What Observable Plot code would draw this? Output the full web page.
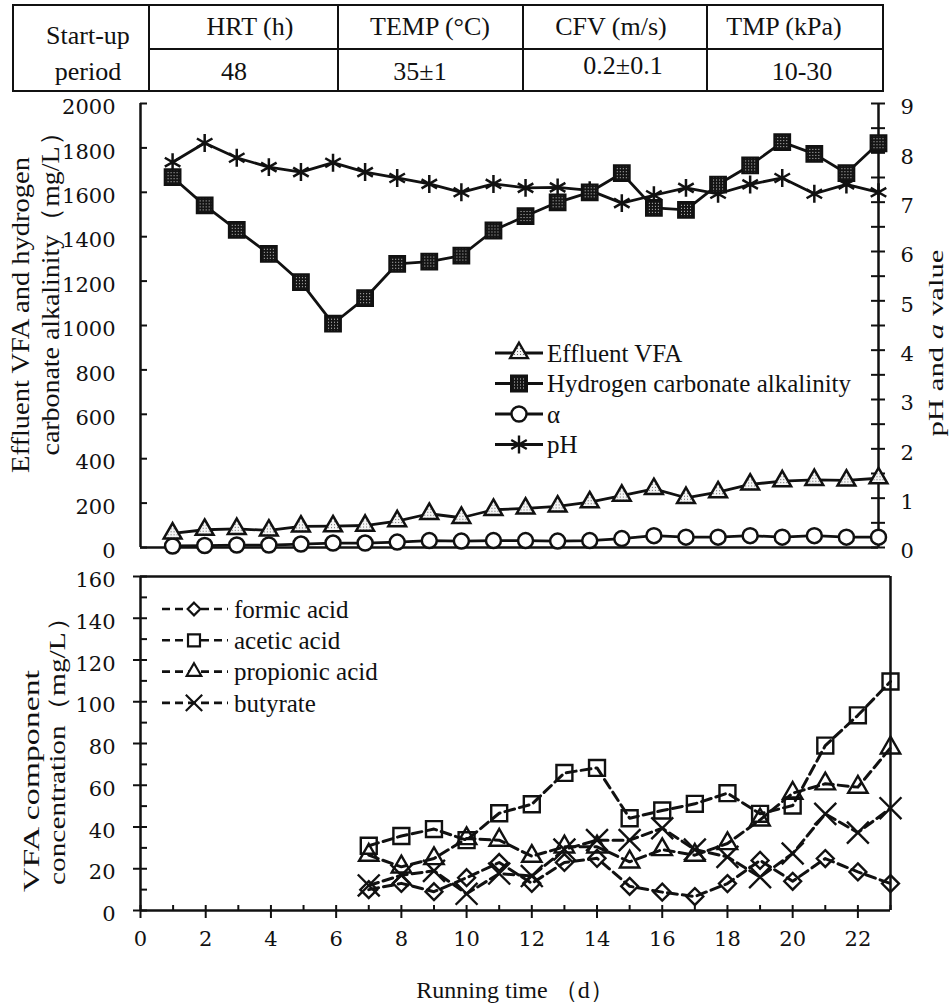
<!DOCTYPE html>
<html><head><meta charset="utf-8">
<script src="https://cdn.jsdelivr.net/npm/d3@7"></script>
<script src="https://cdn.jsdelivr.net/npm/@observablehq/plot@0.6"></script>
<style>
html,body{margin:0;padding:0;background:#fff;}
#page{position:relative;width:951px;height:1006px;overflow:hidden;background:#fff;}
#page > svg{position:absolute;left:0;}
</style></head><body><div id="page"></div>
<script>
// ---------- data ----------
const tableRowLabel = ["Start-up", "period"];
const tableHeaders = ["HRT (h)", "TEMP (°C)", "CFV (m/s)", "TMP (kPa)"];
const tableValues = ["48", "35±1", "0.2±0.1", "10-30"];

const days = [1,2,3,4,5,6,7,8,9,10,11,12,13,14,15,16,17,18,19,20,21,22,23];
const effluentVFA = [64,80,84,77,95,96,99,119,152,134,170,176,185,204,234,264,224,249,284,299,305,302,312];
const bicarbAlk = [1668,1541,1431,1323,1195,1008,1123,1278,1288,1315,1428,1493,1555,1600,1686,1530,1521,1635,1721,1826,1773,1686,1821];
const alphaVal = [0.03,0.04,0.05,0.05,0.07,0.09,0.09,0.11,0.14,0.13,0.14,0.14,0.13,0.14,0.18,0.24,0.21,0.21,0.24,0.21,0.24,0.21,0.21];
const pHVal = [7.81,8.20,7.90,7.71,7.61,7.80,7.61,7.49,7.37,7.20,7.37,7.29,7.30,7.24,6.98,7.14,7.29,7.17,7.36,7.49,7.17,7.36,7.20];

const vfaDays = [7,8,9,10,11,12,13,14,15,16,17,18,19,20,21,22,23];
const formic = [10,13,9,15.7,23,13,23,25,11.6,8.8,6.7,12.9,24,14,24.9,18.5,12.9];
const acetic = [31,35.7,39,33.7,46.6,50.9,65.9,68.3,44.2,47.9,51.1,56.2,46.3,50.3,79,93.5,109.7];
const propionic = [26.5,20.9,24.9,34.5,33.7,26,30.5,30.5,23.3,29.2,26.5,32.1,43.4,56.2,60.7,59.1,77.9];
const butyrate = [12,16.9,19,8,17.7,16.5,29.2,33.7,33.7,39.4,29.2,25.7,16,27.3,46.3,37.3,49];

const topLegend = ["Effluent VFA", "Hydrogen carbonate alkalinity", "α", "pH"];
const bottomLegend = ["formic acid", "acetic acid", "propionic acid", "butyrate"];
const leftTicksTop = [0,200,400,600,800,1000,1200,1400,1600,1800,2000];
const rightTicksTop = [0,1,2,3,4,5,6,7,8,9];
const leftTicksBottom = [0,20,40,60,80,100,120,140,160];
const xTicksBottom = [0,2,4,6,8,10,12,14,16,18,20,22];

// ---------- helpers ----------
const INK = "#111";
const SERIF = "'Liberation Serif','Times New Roman',serif";
const NUMF = "'DejaVu Serif',serif";
const page = d3.select("#page");

function addPatterns(svg) {
  const defs = d3.select(svg).insert("defs", ":first-child");
  const p1 = defs.append("pattern").attr("id", "sqDots").attr("patternUnits", "userSpaceOnUse").attr("width", 3).attr("height", 3);
  p1.append("rect").attr("width", 3).attr("height", 3).attr("fill", "#141414");
  p1.append("rect").attr("x", 1).attr("y", 1).attr("width", 1).attr("height", 1).attr("fill", "#c8c8c8");
  const p2 = defs.append("pattern").attr("id", "triDots").attr("patternUnits", "userSpaceOnUse").attr("width", 3).attr("height", 3);
  p2.append("rect").attr("width", 3).attr("height", 3).attr("fill", "#f4f4f4");
  p2.append("rect").attr("x", 1).attr("y", 1).attr("width", 1).attr("height", 1).attr("fill", "#666");
}
function rotLabel(g, cx, cy, size, len, family) {
  return g.append("text").attr("transform", `translate(${cx},${cy}) rotate(-90)`)
    .attr("text-anchor", "middle").attr("dy", "0.35em")
    .attr("font-family", family || SERIF).attr("font-size", size).attr("fill", INK)
    .attr("textLength", len).attr("lengthAdjust", "spacingAndGlyphs");
}
const sym = {triangle: d3.symbolTriangle, square: d3.symbolSquare, circle: d3.symbolCircle,
  asterisk: d3.symbolAsterisk, diamond2: d3.symbolDiamond2, times: d3.symbolTimes};
const fmt = d => String(d);

// ---------- table ----------
const tbl = page.append("svg").attr("width", 951).attr("height", 95).style("top", "0px");
const tl = tbl.append("g").attr("stroke", INK).attr("stroke-width", 2);
[[13,5,883,5],[149,49,883,49],[13,91,883,91]].forEach(([a,b,c,d]) => tl.append("line").attr("x1",a).attr("y1",b).attr("x2",c).attr("y2",d));
[13,149,338,523,707,883].forEach(x => tl.append("line").attr("x1",x).attr("y1",4).attr("x2",x).attr("y2",92));
const tt = tbl.append("g").attr("font-family", SERIF).attr("font-size", 26).attr("fill", INK).attr("text-anchor", "middle");
tt.append("text").attr("x", 88).attr("y", 44).text(tableRowLabel[0]);
tt.append("text").attr("x", 88).attr("y", 80).text(tableRowLabel[1]);
const hx = [250, 430, 611, 784], vx = [234, 420, 623, 802], vy = [80, 80, 74, 80];
tableHeaders.forEach((h, i) => tt.append("text").attr("x", hx[i]).attr("y", 35).text(h));
tableValues.forEach((v, i) => tt.append("text").attr("x", vx[i]).attr("y", vy[i]).text(v));

// ---------- top chart ----------
const K = 2000 / 9;
const topRows = days.map((d, i) => ({day: d, vfa: effluentVFA[i], alk: bicarbAlk[i], alpha: alphaVal[i] * K, ph: pHVal[i] * K}));
const tickLenTop = 7 / 32.1;

const topSvg = Plot.plot({
  width: 951, height: 474, marginLeft: 140, marginRight: 73, marginTop: 11, marginBottom: 19,
  x: {domain: [0, 23], axis: null},
  y: {domain: [0, 2000], axis: null},
  style: {overflow: "visible", background: "transparent", fontFamily: NUMF, fontSize: "21px", color: INK},
  marks: [
    Plot.axisY(leftTicksTop, {anchor: "left", tickSize: 0, tickPadding: 25, dy: 4, label: null, fontSize: 21, tickFormat: fmt}),
    Plot.axisY(rightTicksTop.map(v => v * K), {anchor: "right", tickSize: 0, tickPadding: 22, dy: 4, label: null, fontSize: 21, tickFormat: d => String(Math.round(d / K))}),
    Plot.ruleY(leftTicksTop, {x1: 0, x2: tickLenTop, stroke: INK, strokeWidth: 2}),
    Plot.ruleY(d3.range(0, 18.5).map(h => h * 0.5 * K), {x1: 23 - tickLenTop, x2: 23 + tickLenTop, stroke: INK, strokeWidth: 2}),
    Plot.ruleX([0], {y1: 0, y2: 2000, stroke: INK, strokeWidth: 2.5}),
    Plot.ruleX([23], {y1: 0, y2: 2000, stroke: INK, strokeWidth: 2.5}),
    Plot.ruleY([0], {x1: 0, x2: 23, stroke: INK, strokeWidth: 2.5}),
    Plot.line(topRows, {x: "day", y: "alpha", stroke: INK, strokeWidth: 2.8}),
    Plot.line(topRows, {x: "day", y: "vfa", stroke: INK, strokeWidth: 2.8}),
    Plot.line(topRows, {x: "day", y: "ph", stroke: INK, strokeWidth: 2.8}),
    Plot.line(topRows, {x: "day", y: "alk", stroke: INK, strokeWidth: 2.8}),
    Plot.dot(topRows, {x: "day", y: "alpha", symbol: "circle", r: 7.5, fill: "white", stroke: INK, strokeWidth: 2.5}),
    Plot.dot(topRows, {x: "day", y: "vfa", symbol: "triangle", r: 6.6, fill: "url(#triDots)", stroke: INK, strokeWidth: 2.5}),
    Plot.dot(topRows, {x: "day", y: "ph", symbol: "asterisk", r: 8.5, fill: "none", stroke: INK, strokeWidth: 2.5}),
    Plot.dot(topRows, {x: "day", y: "alk", symbol: "square", r: 8.8, fill: "url(#sqDots)", stroke: INK, strokeWidth: 2.2})
  ]
});
addPatterns(topSvg);
d3.select(topSvg).style("position", "absolute").style("top", "92px").style("left", "0px");
page.node().appendChild(topSvg);
{
  const g = d3.select(topSvg).append("g");
  rotLabel(g, 20, 315 - 92, 26, 316).text("Effluent VFA and hydrogen");
  rotLabel(g, 50, 287 - 92, 26, 337).text("carbonate alkalinity（mg/L）");
  const r = rotLabel(g, 936, 343 - 92, 21, 187, SERIF);
  r.append("tspan").text("pH and ");
  r.append("tspan").attr("font-style", "italic").text("a");
  r.append("tspan").text(" value");
  const lg = g.append("g").attr("text-anchor", "start");
  const styles = [
    {s: "triangle", r: 6.6, fill: "url(#triDots)"},
    {s: "square", r: 8.8, fill: "url(#sqDots)"},
    {s: "circle", r: 7.5, fill: "white"},
    {s: "asterisk", r: 8.5, fill: "none"}
  ];
  topLegend.forEach((name, i) => {
    const y = 353 - 92 + i * 30.5;
    lg.append("line").attr("x1", 495).attr("x2", 543).attr("y1", y).attr("y2", y).attr("stroke", INK).attr("stroke-width", 2.8);
    lg.append("path").attr("transform", `translate(519,${y})`)
      .attr("d", d3.symbol(sym[styles[i].s], styles[i].r * styles[i].r * Math.PI)())
      .attr("fill", styles[i].fill).attr("stroke", INK).attr("stroke-width", 2.4);
    lg.append("text").attr("x", 547).attr("y", y).attr("dy", "0.35em").attr("text-anchor", "start")
      .attr("font-family", SERIF).attr("font-size", 25).attr("fill", INK).text(name);
  });
}

// ---------- bottom chart ----------
const botRows = [];
const series = [["formic", formic], ["acetic", acetic], ["propionic", propionic], ["butyrate", butyrate]];
series.forEach(([name, vals]) => vfaDays.forEach((d, i) => botRows.push({series: name, day: d, value: vals[i]})));
const tickLenBot = 7 / 32.6;
const pxY = 1 / 2.085;
const bStyle = {
  formic: {s: "diamond2", r: 7.6},
  acetic: {s: "square", r: 9},
  propionic: {s: "triangle", r: 7.2},
  butyrate: {s: "times", r: 10}
};
const botMarks = [
  Plot.axisY(leftTicksBottom, {anchor: "left", tickSize: 0, tickPadding: 25, dy: 4, label: null, fontSize: 21, tickFormat: fmt}),
  Plot.axisX(xTicksBottom, {anchor: "bottom", tickSize: 0, tickPadding: 21, label: null, fontSize: 21, tickFormat: fmt}),
  Plot.ruleY(leftTicksBottom, {x1: -tickLenBot, x2: tickLenBot, stroke: INK, strokeWidth: 2}),
  Plot.ruleY(leftTicksBottom.slice(0, -1).map(v => v + 10), {x1: 0, x2: tickLenBot, stroke: INK, strokeWidth: 2}),
  Plot.ruleX(xTicksBottom, {y1: -8 * pxY, y2: 5 * pxY, stroke: INK, strokeWidth: 2}),
  Plot.ruleX(xTicksBottom.map(v => v + 1), {y1: 0, y2: 5 * pxY, stroke: INK, strokeWidth: 2}),
  Plot.ruleX([0, 23], {y1: 0, y2: 160, stroke: INK, strokeWidth: 2.5}),
  Plot.ruleY([0, 160], {x1: 0, x2: 23, stroke: INK, strokeWidth: 2.5})
];
series.forEach(([name]) => {
  const rows = botRows.filter(d => d.series === name);
  botMarks.push(Plot.line(rows, {x: "day", y: "value", stroke: INK, strokeWidth: 3, strokeDasharray: "10,5"}));
});
series.forEach(([name]) => {
  const rows = botRows.filter(d => d.series === name);
  botMarks.push(Plot.dot(rows, {x: "day", y: "value", symbol: bStyle[name].s, r: bStyle[name].r, fill: "none", stroke: INK, strokeWidth: 2.4}));
});
const botSvg = Plot.plot({
  width: 951, height: 440, marginLeft: 140, marginRight: 61, marginTop: 10, marginBottom: 96,
  x: {domain: [0, 23], axis: null},
  y: {domain: [0, 160], axis: null},
  style: {overflow: "visible", background: "transparent", fontFamily: NUMF, fontSize: "21px", color: INK},
  marks: botMarks
});
d3.select(botSvg).style("position", "absolute").style("top", "566px").style("left", "0px");
page.node().appendChild(botSvg);
{
  const g = d3.select(botSvg).append("g");
  rotLabel(g, 31, 781 - 566, 24, 222).text("VFA component");
  rotLabel(g, 57, 744 - 566, 24, 282).text("concentration（mg/L）");
  g.append("text").attr("x", 515).attr("y", 998 - 566).attr("text-anchor", "middle")
    .attr("font-family", SERIF).attr("font-size", 24).attr("fill", INK).text("Running time （d）");
  const lg = g.append("g").attr("text-anchor", "start");
  const keys = ["formic", "acetic", "propionic", "butyrate"];
  bottomLegend.forEach((name, i) => {
    const y = 609 - 566 + i * 31.3;
    const st = bStyle[keys[i]];
    lg.append("line").attr("x1", 162).attr("x2", 228).attr("y1", y).attr("y2", y).attr("stroke", INK)
      .attr("stroke-width", 2.6).attr("stroke-dasharray", "8,5");
    const rr = st.r * 0.75;
    lg.append("path").attr("transform", `translate(194,${y})`)
      .attr("d", d3.symbol(sym[st.s], rr * rr * Math.PI)())
      .attr("fill", "white").attr("stroke", INK).attr("stroke-width", 2.2);
    lg.append("text").attr("x", 234).attr("y", y).attr("dy", "0.35em").attr("text-anchor", "start")
      .attr("font-family", SERIF).attr("font-size", 25).attr("fill", INK).text(name);
  });
}
</script></body></html>
